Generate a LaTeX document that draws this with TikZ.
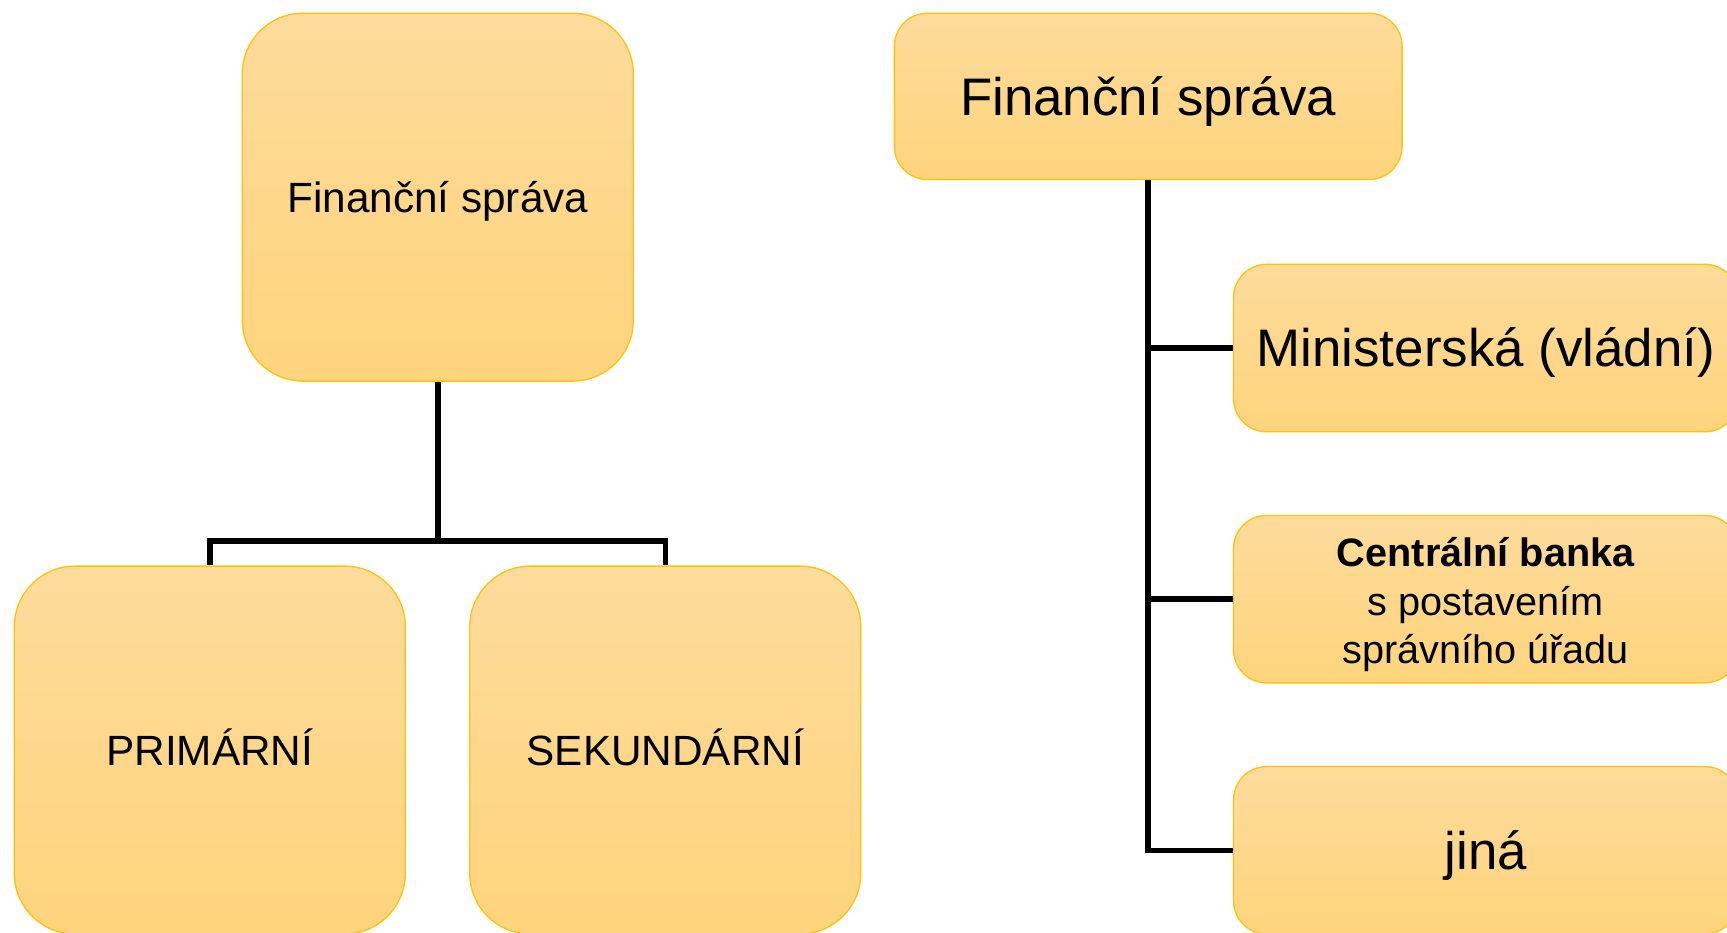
\documentclass[tikz,border=0pt]{standalone}
\usepackage{fontspec}
\setmainfont{Liberation Sans}
\definecolor{boxtop}{HTML}{FDDB9B}
\definecolor{boxbot}{HTML}{FED47C}
\definecolor{boxline}{HTML}{FFC20E}
\begin{document}
\begin{tikzpicture}[x=1bp,y=-1bp,
  box/.style={draw=boxline, line width=1.2bp, top color=boxtop, bottom color=boxbot,
    align=center, inner sep=0pt, text=black},
  tall/.style={box, text height=27.5bp, text depth=0pt, minimum width=355bp, minimum height=334bp,
    rounded corners=55bp, font=\fontsize{38.4bp}{44bp}\selectfont},
  wide/.style={box, minimum width=458bp, minimum height=152bp, rounded corners=30bp,
    font=\fontsize{48bp}{56bp}\selectfont},
  capwide/.style={wide, text height=34.4bp, text depth=0pt},
  label/.style={align=center, inner sep=0pt, text=black, font=\fontsize{36bp}{44bp}\selectfont},
  conn/.style={line width=5bp, draw=black}]
\useasboundingbox (0,0) rectangle (1568,847);
\clip (0,0) rectangle (1568,847);

% left tree
\node[tall] (L) at (397.5,179) {Finanční správa};
\node[tall] (P) at (190.5,681) {PRIMÁRNÍ};
\node[tall] (S) at (604,681) {SEKUNDÁRNÍ};
\coordinate (j) at (397.5,491);
\draw[conn] (L.south) -- (j);
\draw[conn] (P.north) |- (j) -| (S.north);

% right tree
\node[capwide, minimum width=461bp, minimum height=151bp] (RT) at (1042.5,87.5) {Finanční správa};
\node[capwide] (R1) at (1349,316) {Ministerská (vládní)};
\node[wide] (R2) at (1349,544) {};
\node[label] (R2t) at (1349,549) {\textbf{Centrální banka}\\ s postavením\\ správního úřadu};
\node[capwide] (R3) at (1349,772) {jiná};
\draw[conn] (RT.south) |- (R3.west);
\draw[conn] (RT.south |- R1.west) -- (R1.west);
\draw[conn] (RT.south |- R2.west) -- (R2.west);
\end{tikzpicture}
\end{document}
